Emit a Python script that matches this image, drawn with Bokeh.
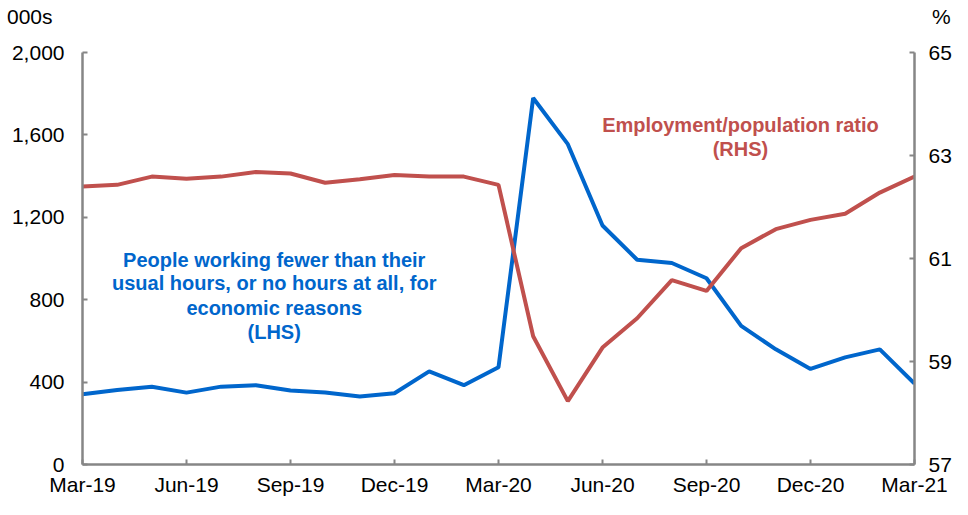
from bokeh.plotting import figure
from bokeh.models import Range1d, LinearAxis, FixedTicker, Label, NumeralTickFormatter, Div
from bokeh.layouts import column
from bokeh.embed import file_html
from bokeh.resources import INLINE

months = ["Mar-19","Apr-19","May-19","Jun-19","Jul-19","Aug-19","Sep-19","Oct-19","Nov-19","Dec-19",
          "Jan-20","Feb-20","Mar-20","Apr-20","May-20","Jun-20","Jul-20","Aug-20","Sep-20","Oct-20",
          "Nov-20","Dec-20","Jan-21","Feb-21","Mar-21"]
underemployed_000s = [341, 362, 377, 349, 378, 385, 359, 349, 330, 346, 452, 385, 472,
                      1779, 1555, 1160, 994, 978, 904, 673, 559, 464, 520, 559, 393]
emp_pop_ratio = [62.40, 62.43, 62.59, 62.55, 62.59, 62.68, 62.65, 62.47, 62.54, 62.62, 62.59, 62.59, 62.43,
                 59.49, 58.23, 59.27, 59.84, 60.58, 60.37, 61.20, 61.57, 61.75, 61.87, 62.28, 62.59]
left_ticks = [0, 400, 800, 1200, 1600, 2000]
right_ticks = [57, 59, 61, 63, 65]
x_tick_labels = ["Mar-19","Jun-19","Sep-19","Dec-19","Mar-20","Jun-20","Sep-20","Dec-20","Mar-21"]
left_unit = "000s"
right_unit = "%"

BLUE = "#0066CC"
RED = "#C0504D"
AXIS = "#868686"
FONT = "Liberation Sans"

x = list(range(len(months)))

header = Div(
    text=('<div style="position:relative;width:952px;height:30px;font-family:\'Liberation Sans\';'
          'font-size:21px;color:#000000;line-height:24px;">'
          f'<span style="position:absolute;left:7px;top:5px;">{left_unit}</span>'
          f'<span style="position:absolute;left:932px;top:5px;">{right_unit}</span></div>'),
    width=952, height=30, margin=0)

p = figure(frame_width=832, frame_height=412, output_backend="svg", toolbar_location=None,
           x_range=Range1d(0, len(months) - 1), y_range=Range1d(0, 2000),
           min_border_left=82, min_border_right=38, min_border_top=22, min_border_bottom=35,
           margin=0)
p.extra_y_ranges = {"rhs": Range1d(57, 65)}
p.xgrid.visible = False
p.ygrid.visible = False
p.outline_line_color = None

p.line(x, underemployed_000s, line_color=BLUE, line_width=4)
p.line(x, emp_pop_ratio, line_color=RED, line_width=4, y_range_name="rhs")

def style(ax):
    ax.axis_line_color = AXIS
    ax.axis_line_width = 2.5
    ax.major_tick_line_color = AXIS
    ax.major_tick_line_width = 2
    ax.minor_tick_line_color = None
    ax.major_label_text_font = FONT
    ax.major_label_text_font_size = "21px"
    ax.major_label_text_color = "#000000"

xa = p.xaxis[0]
style(xa)
xa.ticker = FixedTicker(ticks=[months.index(m) for m in x_tick_labels])
xa.major_label_overrides = {months.index(m): m for m in x_tick_labels}
xa.major_tick_in = 5
xa.major_tick_out = 0
xa.major_label_standoff = 8

ya = p.yaxis[0]
style(ya)
ya.ticker = FixedTicker(ticks=left_ticks)
ya.formatter = NumeralTickFormatter(format="0,0")
ya.major_tick_in = 5
ya.major_tick_out = 0
ya.major_label_standoff = 18

ra = LinearAxis(y_range_name="rhs")
style(ra)
ra.ticker = FixedTicker(ticks=right_ticks)
ra.major_tick_in = 5
ra.major_tick_out = 0
ra.major_label_standoff = 14
p.add_layout(ra, "right")

blue_lines = ["People working fewer than their", "usual hours, or no hours at all, for",
              "economic reasons", "(LHS)"]
blue_y = [995, 882, 758, 645]
for t, yy in zip(blue_lines, blue_y):
    p.add_layout(Label(x=5.53, y=yy, text=t, text_align="center", text_baseline="middle",
                       text_font=FONT, text_font_style="bold", text_font_size="20px", text_color=BLUE))

red_lines = ["Employment/population ratio", "(RHS)"]
red_y = [1649, 1531]
for t, yy in zip(red_lines, red_y):
    p.add_layout(Label(x=18.98, y=yy, text=t, text_align="center", text_baseline="middle",
                       text_font=FONT, text_font_style="bold", text_font_size="20px", text_color=RED))

layout = column(header, p, spacing=0, margin=0)
open("out.html", "w").write(file_html(layout, INLINE))
